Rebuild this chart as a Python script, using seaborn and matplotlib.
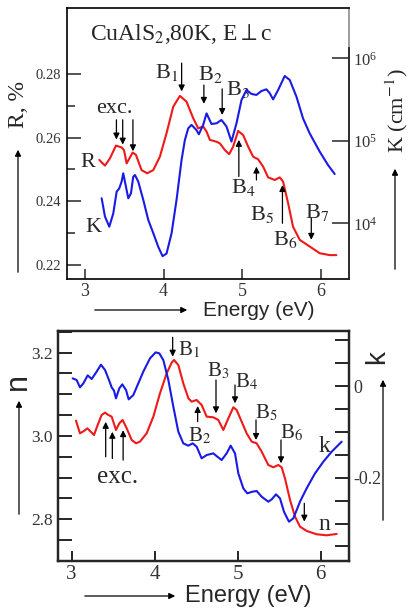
import matplotlib
matplotlib.use("Agg")
import matplotlib.pyplot as plt
import numpy as np
import pandas as pd
import seaborn as sns
from matplotlib.ticker import MultipleLocator, FixedLocator, FuncFormatter, NullLocator

# ---------------- data: CuAlS2, 80 K, E perpendicular to c ----------------
# reflectivity R
energy_R = [3.182, 3.254, 3.318, 3.394, 3.466, 3.496, 3.530, 3.606, 3.648, 3.720,
            3.792, 3.869, 3.953, 4.038, 4.123, 4.208, 4.292, 4.377, 4.441, 4.504,
            4.547, 4.589, 4.674, 4.716, 4.780, 4.835, 4.886, 4.949, 5.013, 5.076,
            5.140, 5.203, 5.267, 5.331, 5.415, 5.479, 5.521, 5.585, 5.648, 5.733,
            5.860, 5.987, 6.114, 6.199]
refl_R = [0.2530, 0.2512, 0.2535, 0.2575, 0.2569, 0.2561, 0.2519, 0.2553, 0.2546, 0.2498,
          0.2488, 0.2498, 0.2540, 0.2614, 0.2697, 0.2731, 0.2713, 0.2661, 0.2629, 0.2635,
          0.2619, 0.2593, 0.2587, 0.2582, 0.2561, 0.2548, 0.2572, 0.2621, 0.2608, 0.2572,
          0.2540, 0.2532, 0.2509, 0.2475, 0.2467, 0.2475, 0.2462, 0.2394, 0.2320, 0.2279,
          0.2258, 0.2237, 0.2231, 0.2231]

# absorption coefficient K (cm^-1)
energy_K = [3.212, 3.254, 3.309, 3.360, 3.403, 3.436, 3.466, 3.487, 3.521, 3.551,
            3.585, 3.614, 3.636, 3.678, 3.742, 3.805, 3.869, 3.932, 3.987, 4.038,
            4.102, 4.165, 4.229, 4.271, 4.314, 4.356, 4.419, 4.449, 4.504, 4.547,
            4.610, 4.674, 4.737, 4.801, 4.864, 4.928, 4.992, 5.055, 5.119, 5.182,
            5.246, 5.309, 5.352, 5.394, 5.458, 5.542, 5.606, 5.691, 5.775, 5.860,
            5.987, 6.093, 6.178]
absorp_K = [2.01e4, 1.21e4, 9.1e3, 1.32e4, 2.42e4, 2.65e4, 3.20e4, 4.04e4, 2.78e4, 2.01e4,
            2.31e4, 3.68e4, 3.85e4, 3.20e4, 1.92e4, 1.10e4, 7.6e3, 5.2e3, 4.0e3, 4.3e3,
            7.6e3, 1.92e4, 5.86e4, 1.02e5, 1.42e5, 1.56e5, 1.35e5, 1.20e5, 1.56e5, 2.15e5,
            1.60e5, 1.63e5, 1.79e5, 1.49e5, 9.8e4, 1.63e5, 3.13e5, 4.13e5, 3.70e5, 3.60e5,
            4.02e5, 4.21e5, 3.77e5, 3.18e5, 4.13e5, 6.11e5, 5.46e5, 3.43e5, 1.87e5, 1.23e5,
            7.40e4, 5.09e4, 3.96e4]

# refractive index n
energy_n = [3.052, 3.100, 3.149, 3.189, 3.241, 3.269, 3.309, 3.361, 3.402, 3.442,
            3.482, 3.534, 3.574, 3.614, 3.663, 3.723, 3.775, 3.823, 3.904, 3.984,
            4.064, 4.145, 4.205, 4.233, 4.285, 4.345, 4.406, 4.446, 4.506, 4.566,
            4.627, 4.707, 4.767, 4.827, 4.888, 4.948, 4.988, 5.048, 5.108, 5.169,
            5.229, 5.289, 5.369, 5.430, 5.490, 5.530, 5.570, 5.631, 5.691, 5.751,
            5.831, 5.952, 6.072, 6.193]
index_n = [3.0368, 3.0064, 3.0120, 3.0184, 3.0080, 3.0024, 3.0240, 3.0504, 3.0560, 3.0504,
           3.0464, 3.0144, 3.0304, 3.0384, 3.0184, 2.9904, 2.9824, 2.9864, 3.0064, 3.0464,
           3.1024, 3.1504, 3.1760, 3.1824, 3.1704, 3.1264, 3.0904, 3.0824, 3.0864, 3.0744,
           3.0464, 3.0448, 3.0384, 3.0144, 3.0424, 3.0688, 3.0624, 3.0344, 3.0064, 2.9864,
           2.9824, 2.9624, 2.9304, 2.9248, 2.9304, 2.9248, 2.8984, 2.8464, 2.8064, 2.7824,
           2.7720, 2.7640, 2.7616, 2.7648]

# extinction coefficient k
energy_k = [3.012, 3.060, 3.100, 3.141, 3.193, 3.241, 3.301, 3.353, 3.402, 3.442,
            3.482, 3.510, 3.534, 3.574, 3.610, 3.655, 3.687, 3.743, 3.803, 3.863,
            3.944, 4.012, 4.056, 4.104, 4.165, 4.225, 4.285, 4.345, 4.406, 4.458,
            4.506, 4.566, 4.627, 4.707, 4.755, 4.807, 4.867, 4.916, 4.968, 5.008,
            5.068, 5.116, 5.177, 5.229, 5.289, 5.369, 5.410, 5.462, 5.510, 5.558,
            5.618, 5.671, 5.751, 5.831, 5.932, 6.032, 6.133, 6.253]
extinct_k = [0.0167, 0.0131, -0.0029, 0.0058, 0.0233, 0.0153, 0.0313, 0.0465, 0.0349, 0.0167,
             -0.0029, -0.0102, -0.0269, -0.0051, 0.0036, -0.0087, -0.0291, -0.0196, 0.0058, 0.0313,
             0.0604, 0.0734, 0.0713, 0.0567, 0.0131, -0.0451, -0.0996, -0.1251, -0.1301, -0.1251,
             -0.1323, -0.1578, -0.1505, -0.1469, -0.1541, -0.1614, -0.1469, -0.1301, -0.1469, -0.1905,
             -0.2232, -0.2341, -0.2305, -0.2290, -0.2414, -0.2523, -0.2472, -0.2363, -0.2450, -0.2741,
             -0.2959, -0.2886, -0.2523, -0.2232, -0.1905, -0.1651, -0.1432, -0.1214]

# tick values
R_ticks = [0.22, 0.24, 0.26, 0.28]
R_minor = [0.23, 0.25, 0.27]
K_ticks = [1e4, 1e5, 1e6]
n_ticks = [2.8, 3.0, 3.2]
k_ticks = [0.0, -0.2]
E_ticks = [3, 4, 5, 6]

# transition labels: (text, text x, text y, arrow x, arrow tail y, arrow tip y)
top_marks = [
    (r"B$_1$", 3.89, 0.2786, 4.23, 0.2834, 0.2745),
    (r"B$_2$", 4.44, 0.2781, 4.513, 0.2765, 0.2706),
    (r"B$_3$", 4.80, 0.2734, 4.746, 0.2753, 0.2671),
    (r"B$_4$", 4.864, 0.2425, 4.958, 0.2478, 0.2593),
    (r"B$_5$", 5.097, 0.2341, 5.182, 0.2467, 0.2509),
    (r"B$_6$", 5.394, 0.2263, 5.513, 0.2331, 0.2451),
    (r"B$_7$", 5.797, 0.2347, 5.880, 0.2347, 0.2279),
]
top_exc = [(3.40, 0.2656, 0.2594), (3.48, 0.2656, 0.2578), (3.61, 0.2656, 0.2557)]

bottom_marks = [
    (r"B$_1$", 4.285, 3.1944, 4.217, 3.2368, 3.1904),
    (r"B$_2$", 4.406, 2.9864, 4.518, 3.0344, 3.0720),
    (r"B$_3$", 4.635, 3.1424, 4.739, 3.1344, 3.0544),
    (r"B$_4$", 4.968, 3.1180, 4.968, 3.1224, 3.0784),
    (r"B$_5$", 5.209, 3.0424, 5.221, 3.0384, 2.9904),
    (r"B$_6$", 5.510, 2.9944, 5.522, 2.9904, 2.9344),
    ("", 0, 0, 5.803, 2.8384, 2.7944),
]
bottom_exc = [(3.41, 2.950, 3.034), (3.49, 2.946, 3.010), (3.62, 2.942, 3.014)]

# ---------------- styling ----------------
sns.set_style("ticks")
plt.rcParams["font.family"] = ["Liberation Serif", "DejaVu Serif"]
plt.rcParams["mathtext.fontset"] = "stix"
plt.rcParams["axes.unicode_minus"] = False

RED = "#f01818"
BLUE = "#1a1ae6"
TICK_C = "#333333"
W, H = 410, 615

fig = plt.figure(figsize=(W / 100, H / 100), dpi=100)


def fx(px):
    return px / W


def fy(py):
    return 1 - py / H


def arrow(ax, x, y0, y1, lw=0.9, ms=9):
    ax.annotate("", xy=(x, y1), xytext=(x, y0), annotation_clip=False,
                arrowprops=dict(arrowstyle="-|>", color="k", lw=lw,
                                mutation_scale=ms, shrinkA=0, shrinkB=0))


def fig_arrow(p0, p1, lw=0.9):
    fig.add_artist(matplotlib.patches.FancyArrowPatch(
        (fx(p0[0]), fy(p0[1])), (fx(p1[0]), fy(p1[1])), transform=fig.transFigure,
        arrowstyle="-|>", mutation_scale=9, lw=lw, color="k"))


# ================= upper panel: R and K =================
ax1 = fig.add_axes([fx(67), fy(279), fx(349) - fx(67), fy(8) - fy(279)])
dR = pd.DataFrame({"E": energy_R, "R": refl_R})
sns.lineplot(data=dR, x="E", y="R", ax=ax1, color=RED, lw=1.5, sort=False, estimator=None)
ax1.set_xlim(2.771, 6.36)
ax1.set_ylim(0.2156, 0.3007)
ax1.set_xlabel("")
ax1.set_ylabel("")
ax1.xaxis.set_major_locator(FixedLocator(E_ticks))
ax1.xaxis.set_major_formatter(FuncFormatter(lambda v, p: f"{v:g}"))
ax1.yaxis.set_major_locator(FixedLocator(R_ticks))
ax1.yaxis.set_minor_locator(FixedLocator(R_minor))
ax1.yaxis.set_major_formatter(FuncFormatter(lambda v, p: f"{v:.2f}"))
ax1.tick_params(axis="y", which="major", direction="in", length=10, width=1.1,
                labelsize=10.5, labelcolor=TICK_C, pad=4)
ax1.tick_params(axis="y", which="minor", direction="in", length=6, width=1.1)
ax1.tick_params(axis="x", which="major", direction="in", length=7, width=1.1,
                labelsize=13, labelcolor=TICK_C, pad=3)
for s in ["left", "bottom", "top"]:
    ax1.spines[s].set_linewidth(1.2)
    ax1.spines[s].set_color("k")
ax1.spines["right"].set_color("0.55")
ax1.spines["right"].set_linewidth(1.2)

ax1k = ax1.twinx()
dK = pd.DataFrame({"E": energy_K, "K": absorp_K})
sns.lineplot(data=dK, x="E", y="K", ax=ax1k, color=BLUE, lw=1.5, sort=False, estimator=None)
ax1k.set_yscale("log")
ax1k.set_ylim(10 ** 3.325, 10 ** 6.61)
ax1k.set_ylabel("")
ax1k.yaxis.set_major_locator(FixedLocator(K_ticks))
ax1k.yaxis.set_minor_locator(NullLocator())
ax1k.tick_params(axis="y", which="major", direction="in", length=12, width=1.1,
                 labelsize=12, labelcolor=TICK_C, pad=3)
for s in ["left", "bottom", "top"]:
    ax1k.spines[s].set_visible(False)
ax1k.spines["right"].set_linewidth(1.3)
ax1k.spines["right"].set_bounds(10 ** 3.325, 10 ** 6.125)

# annotations of the upper panel
ax1.text(3.064, 0.2907, r"CuAlS$_2$,80K, E$\perp$c", fontsize=17, ha="left", va="baseline")
ax1.text(3.148, 0.2676, "exc.", fontsize=16, ha="left", va="baseline")
ax1.text(2.936, 0.2509, "R", fontsize=16, ha="left", va="baseline")
ax1.text(3.000, 0.2305, "K", fontsize=16, ha="left", va="baseline")
for x, y0, y1 in top_exc:
    arrow(ax1, x, y0, y1)
for lab, tx, ty, x, y0, y1 in top_marks:
    ax1.text(tx, ty, lab, fontsize=16, ha="left", va="baseline")
    arrow(ax1, x, y0, y1)

# ================= lower panel: n and k =================
ax2 = fig.add_axes([fx(58.3), fy(560.7), fx(349.3) - fx(58.3), fy(331) - fy(560.7)])
dn = pd.DataFrame({"E": energy_n, "n": index_n})
sns.lineplot(data=dn, x="E", y="n", ax=ax2, color=RED, lw=1.5, sort=False, estimator=None)
ax2.set_xlim(2.839, 6.345)
ax2.set_ylim(2.7006, 3.252)
ax2.set_xlabel("")
ax2.set_ylabel("")
ax2.xaxis.set_major_locator(FixedLocator(E_ticks))
ax2.xaxis.set_major_formatter(FuncFormatter(lambda v, p: f"{v:g}"))
ax2.yaxis.set_major_locator(FixedLocator(n_ticks))
ax2.yaxis.set_minor_locator(MultipleLocator(0.05))
ax2.yaxis.set_major_formatter(FuncFormatter(lambda v, p: f"{v:.1f}"))
ax2.tick_params(axis="y", which="both", direction="in", length=10, width=1.4,
                labelsize=12.5, labelcolor=TICK_C, pad=4)
ax2.tick_params(axis="x", which="major", direction="in", length=7, width=1.4,
                labelsize=15, labelcolor=TICK_C, pad=3)
for s in ax2.spines.values():
    s.set_linewidth(1.6)
    s.set_color("k")

ax2k = ax2.twinx()
dk = pd.DataFrame({"E": energy_k, "k": extinct_k})
sns.lineplot(data=dk, x="E", y="k", ax=ax2k, color=BLUE, lw=1.5, sort=False, estimator=None)
ax2k.set_ylim(-0.381, 0.12)
ax2k.set_ylabel("")
ax2k.yaxis.set_major_locator(FixedLocator(k_ticks))
ax2k.yaxis.set_minor_locator(MultipleLocator(0.05))
ax2k.yaxis.set_major_formatter(FuncFormatter(lambda v, p: "0" if abs(v) < 1e-9 else f"{v:.1f}"))
ax2k.tick_params(axis="y", which="both", direction="in", length=10, width=1.4,
                 labelsize=13, labelcolor=TICK_C, pad=3)
for s in ax2k.spines.values():
    s.set_linewidth(1.6)

# annotations of the lower panel
ax2.text(3.301, 2.8864, "exc.", fontsize=18, ha="left", va="baseline")
for x, y0, y1 in bottom_exc:
    arrow(ax2, x, y0, y1)
for lab, tx, ty, x, y0, y1 in bottom_marks:
    if lab:
        ax2.text(tx, ty, lab, fontsize=15, ha="left", va="baseline")
    arrow(ax2, x, y0, y1)
ax2.text(5.972, 2.9624, "k", fontsize=17, ha="left", va="baseline")
ax2.text(5.972, 2.7744, "n", fontsize=17, ha="left", va="baseline")

# ================= axis titles with arrows =================
sans = ["Liberation Sans", "DejaVu Sans"]
fig.text(fx(18.5), fy(105), "R, %", rotation=90, fontsize=17, ha="center", va="center")
fig_arrow((18, 275), (18, 147))
fig.text(fx(397), fy(111), r"K (cm$^{-1}$)", rotation=90, fontsize=16, ha="center", va="center")
fig_arrow((395, 272), (395, 166))
fig.text(fx(203), fy(310), "Energy (eV)", fontsize=15, family=sans, ha="left", va="center")
fig_arrow((92, 310), (190, 310))

fig.text(fx(18), fy(381), "n", rotation=90, fontsize=22, family=sans, ha="center", va="center")
fig_arrow((19, 517), (19, 398))
fig.text(fx(377), fy(357), "k", rotation=90, fontsize=20, family=sans, ha="center", va="center")
fig_arrow((383, 523), (383, 377))
fig.text(fx(185), fy(596), "Energy (eV)", fontsize=17, family=sans, ha="left", va="center")
fig_arrow((82, 596), (178, 596))

fig.savefig("out.png", dpi=100)
